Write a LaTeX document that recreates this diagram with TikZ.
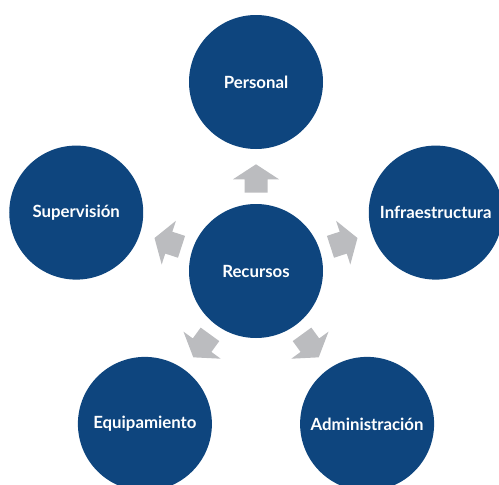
\documentclass[tikz,border=0pt]{standalone}
\usepackage{fontspec}
\setmainfont{Lato}
\usetikzlibrary{calc}
\definecolor{cblue}{HTML}{0E457E}
\definecolor{cgray}{HTML}{BBBCBF}
\begin{document}
\begin{tikzpicture}[x=1pt,y=1pt,
  bubble/.style={circle, fill=cblue, draw=none, minimum size=134pt, inner sep=0pt,
    text=white, font=\fontsize{16.8}{20}\selectfont\bfseries},
  blockarrow/.style={fill=cgray, draw=none}]
\clip (0,0) rectangle (499,-485);
\useasboundingbox (0,0) rectangle (499,-485);
\node[bubble] (R) at (256,-271) {Recursos};
\node[bubble] (P) at ($(R)+(90:189)$) {Personal};
\node[bubble] (I) at ($(R)+(18:189)$) {Infraestructura};
\node[bubble] (S) at ($(R)+(162:189)$) {Supervisión};
\node[bubble] (E) at ($(R)+(234:189)$) {Equipamiento};
\node[bubble] (A) at ($(R)+(306:189)$) {Administración};
\foreach \ang in {90,18,162,234,306}{
  \begin{scope}[shift={(R)}, rotate=\ang]
    \fill[blockarrow] (78.3,-11.5) -- (91.7,-11.5) -- (91.7,-23) -- (106.7,0)
      -- (91.7,23) -- (91.7,11.5) -- (78.3,11.5) -- cycle;
  \end{scope}
}
\end{tikzpicture}
\end{document}
